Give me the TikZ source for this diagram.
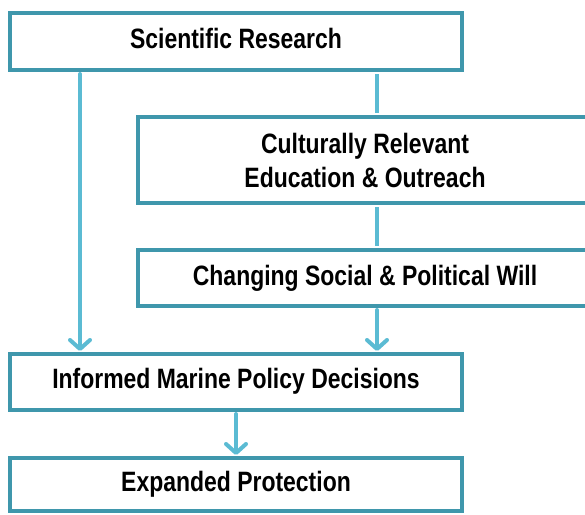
\documentclass[tikz,border=0pt]{standalone}
\usepackage{fontspec}
\setmainfont{Liberation Sans}[FakeStretch=0.82]
\usetikzlibrary{arrows.meta,calc}
\definecolor{boxline}{HTML}{3F97AC}
\definecolor{arrline}{HTML}{5BBBD3}
\tikzset{
  flowbox/.style={draw=boxline, line width=4pt, fill=white, rectangle, inner sep=0pt,
    align=center, font=\bfseries\fontsize{28}{34}\selectfont, text=black},
  lifted/.style={text height=20pt, text depth=7pt},
  conn/.style={draw=arrline, line width=4pt},
  arr/.style={conn, -{Straight Barb[length=9pt,width=20pt,line cap=round,line join=round]}, line cap=round},
}
\begin{document}
\begin{tikzpicture}[x=1pt,y=1pt]
\useasboundingbox (0,0) rectangle (585,-514);
\clip (0,0) rectangle (585,-514);
\node[flowbox, lifted, minimum width=452pt, minimum height=57pt] (sr) at (236,-41.5) {Scientific Research};
\node[flowbox, minimum width=454pt, minimum height=86pt] (ed) at (365,-160) {Culturally Relevant\\Education \& Outreach};
\node[flowbox, minimum width=454pt, minimum height=56pt] (cw) at (365,-278) {Changing Social \& Political Will};
\node[flowbox, lifted, minimum width=452pt, minimum height=56pt] (im) at (236,-382) {Informed Marine Policy Decisions};
\node[flowbox, lifted, minimum width=452pt, minimum height=53pt] (ep) at (236,-484.5) {Expanded Protection};
\coordinate (lx) at (80,0);
\coordinate (rx) at (377,0);
\draw[arr] ([yshift=-2pt]sr.south -| lx) -- ([yshift=1pt]im.north -| lx);
\draw[conn] ([yshift=-2pt]sr.south -| rx) -- ([yshift=2pt]ed.north -| rx);
\draw[conn] ([yshift=-2pt]ed.south -| rx) -- ([yshift=2pt]cw.north -| rx);
\draw[arr] ([yshift=-2pt]cw.south -| rx) -- ([yshift=1pt]im.north -| rx);
\draw[arr] ([yshift=-2pt]im.south) -- ([yshift=1pt]ep.north);
\end{tikzpicture}
\end{document}
